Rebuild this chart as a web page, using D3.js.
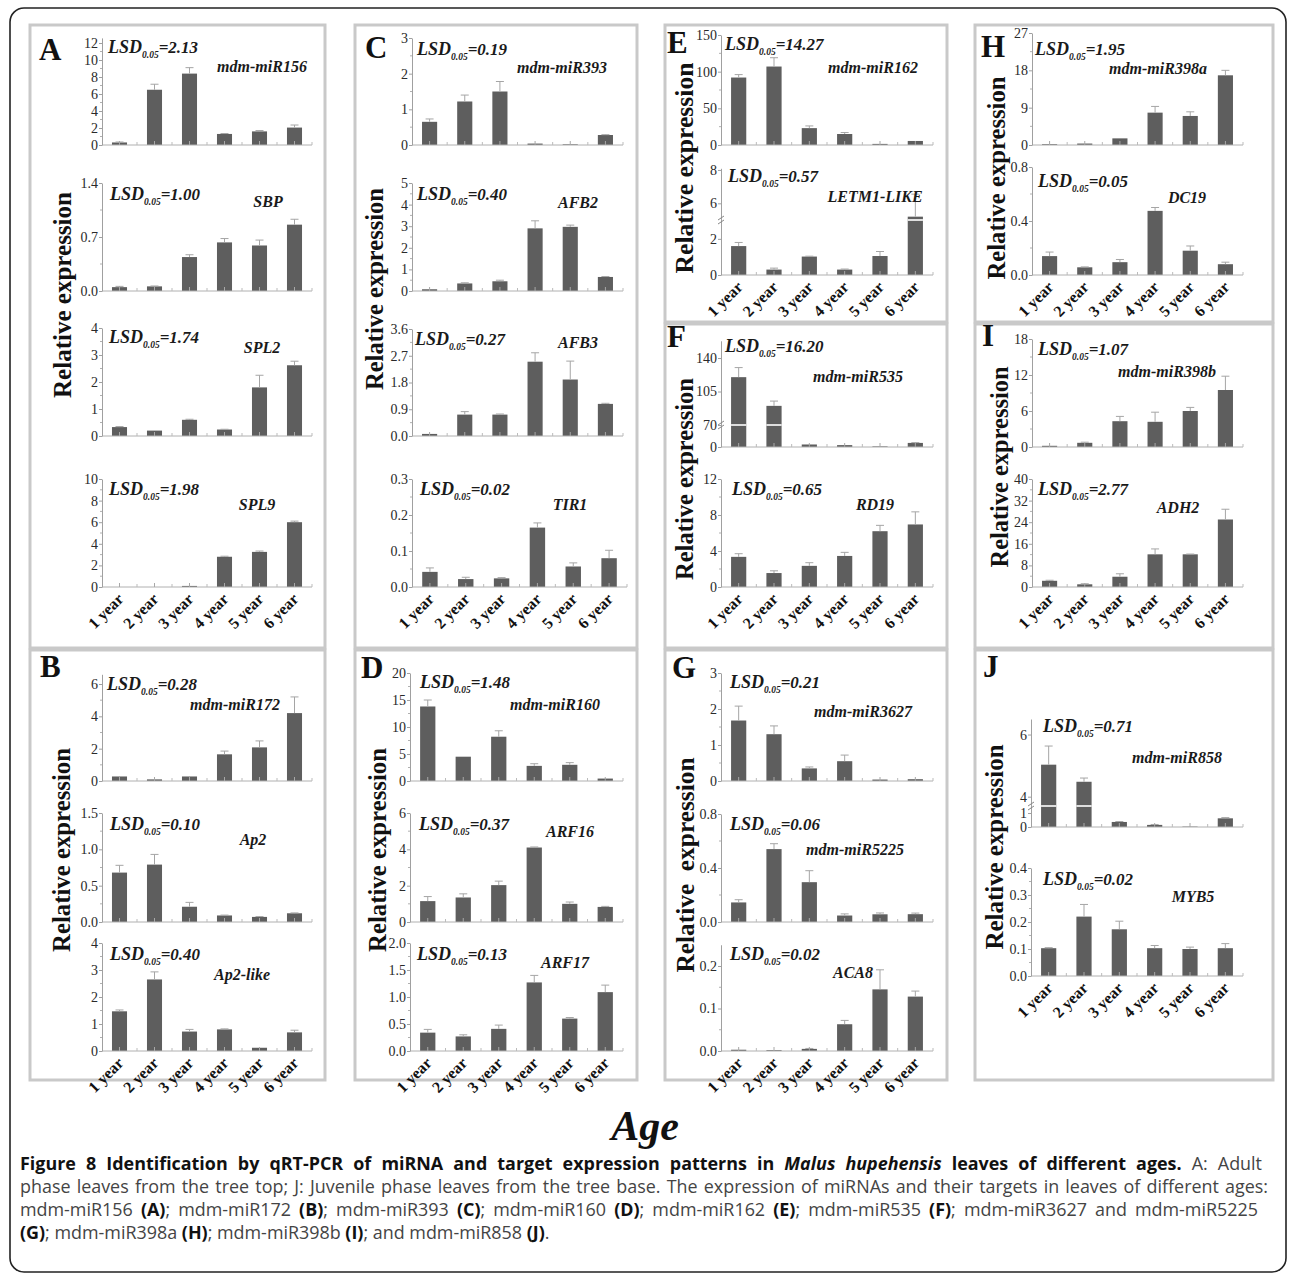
<!DOCTYPE html>
<html><head><meta charset="utf-8">
<script src="https://cdn.jsdelivr.net/npm/d3@7"></script>
<style>
body{margin:0;background:#fff;}
svg{display:block;}
</style></head>
<body>
<script>
// ---------- DATA ----------
const years = ["1 year","2 year","3 year","4 year","5 year","6 year"];

// Panel A
const miR156 = [0.3, 6.5, 8.4, 1.3, 1.6, 2.05];
const miR156Err = [0.05, 0.65, 0.7, 0.05, 0.1, 0.3];
const SBP = [0.05, 0.06, 0.44, 0.63, 0.59, 0.86];
const SBPErr = [0.01, 0.005, 0.03, 0.05, 0.07, 0.07];
const SPL2 = [0.33, 0.2, 0.6, 0.24, 1.8, 2.62];
const SPL2Err = [0.02, 0.0, 0.02, 0.01, 0.45, 0.15];
const SPL9 = [0, 0, 0.1, 2.8, 3.25, 6.0];
const SPL9Err = [0, 0, 0, 0.05, 0.08, 0.1];
// Panel B
const miR172 = [0.28, 0.1, 0.28, 1.65, 2.08, 4.2];
const miR172Err = [0, 0, 0, 0.2, 0.4, 1.0];
const Ap2 = [0.68, 0.79, 0.21, 0.09, 0.07, 0.12];
const Ap2Err = [0.1, 0.14, 0.06, 0.005, 0.005, 0.005];
const Ap2like = [1.47, 2.65, 0.72, 0.8, 0.12, 0.69];
const Ap2likeErr = [0.05, 0.28, 0.08, 0.02, 0, 0.08];
// Panel C
const miR393 = [0.65, 1.22, 1.5, 0.04, 0.02, 0.28];
const miR393Err = [0.08, 0.18, 0.28, 0, 0, 0.01];
const AFB2 = [0.08, 0.35, 0.45, 2.9, 2.97, 0.65];
const AFB2Err = [0, 0.03, 0.05, 0.35, 0.08, 0.02];
const AFB3 = [0.07, 0.72, 0.72, 2.5, 1.9, 1.08];
const AFB3Err = [0, 0.1, 0.02, 0.3, 0.62, 0.02];
const TIR1 = [0.042, 0.022, 0.024, 0.165, 0.057, 0.08];
const TIR1Err = [0.011, 0.005, 0.002, 0.013, 0.01, 0.022];
// Panel D
const miR160 = [13.8, 4.5, 8.2, 2.8, 3.0, 0.45];
const miR160Err = [1.2, 0, 1.1, 0.4, 0.4, 0];
const ARF16 = [1.15, 1.35, 2.03, 4.1, 1.0, 0.83];
const ARF16Err = [0.25, 0.2, 0.22, 0.03, 0.1, 0.03];
const ARF17 = [0.34, 0.27, 0.41, 1.27, 0.6, 1.09];
const ARF17Err = [0.06, 0.03, 0.07, 0.13, 0.02, 0.13];
// Panel E
const miR162 = [92, 107, 23, 15, 1.5, 5.5];
const miR162Err = [4, 12, 3, 2, 0, 0];
const LETM1 = [1.6, 0.3, 1.02, 0.3, 1.05, 5.2];
const LETM1Err = [0.2, 0.08, 0.02, 0.03, 0.25, 1.35];
// Panel F
const miR535 = [120, 90, 8, 6, 2, 13];
const miR535Err = [10, 5, 0, 0, 0, 1];
const RD19 = [3.35, 1.55, 2.35, 3.45, 6.2, 6.95];
const RD19Err = [0.35, 0.25, 0.35, 0.4, 0.65, 1.4];
// Panel G
const miR3627 = [1.68, 1.3, 0.35, 0.55, 0.04, 0.05];
const miR3627Err = [0.4, 0.23, 0.04, 0.17, 0, 0];
const miR5225 = [0.145, 0.54, 0.295, 0.048, 0.057, 0.058];
const miR5225Err = [0.02, 0.04, 0.085, 0.012, 0.01, 0.008];
const ACA8 = [0.003, 0.002, 0.005, 0.063, 0.145, 0.128];
const ACA8Err = [0, 0, 0.001, 0.009, 0.046, 0.013];
// Panel H
const miR398a = [0.2, 0.35, 1.6, 7.8, 7.0, 16.8];
const miR398aErr = [0, 0, 0, 1.5, 1.0, 1.2];
const DC19 = [0.14, 0.057, 0.095, 0.475, 0.18, 0.08];
const DC19Err = [0.03, 0.003, 0.02, 0.025, 0.035, 0.015];
// Panel I
const miR398b = [0.2, 0.7, 4.3, 4.2, 6.0, 9.5];
const miR398bErr = [0, 0.1, 0.8, 1.6, 0.6, 2.3];
const ADH2 = [2.3, 1.0, 3.8, 12.1, 12.1, 25];
const ADH2Err = [0.2, 0.2, 1.1, 2.0, 0.1, 3.8];
// Panel J
const miR858 = [5.03, 4.48, 0.36, 0.15, 0.03, 0.62];
const miR858Err = [0.6, 0.12, 0.03, 0.03, 0, 0.05];
const MYB5 = [0.103, 0.22, 0.173, 0.103, 0.1, 0.103];
const MYB5Err = [0.002, 0.045, 0.03, 0.01, 0.007, 0.017];

// tick labels
const ticks156 = [0,2,4,6,8,10,12], ticksSBP = [0,0.7,1.4], ticksSPL2 = [0,1,2,3,4], ticksSPL9 = [0,2,4,6,8,10];
const ticks172 = [0,2,4,6], ticksAp2 = [0,0.5,1.0,1.5], ticksAp2like = [0,1,2,3,4];
const ticks393 = [0,1,2,3], ticksAFB2 = [0,1,2,3,4,5], ticksAFB3 = [0,0.9,1.8,2.7,3.6], ticksTIR1 = [0,0.1,0.2,0.3];
const ticks160 = [0,5,10,15,20], ticksARF16 = [0,2,4,6], ticksARF17 = [0,0.5,1.0,1.5,2.0];
const ticks162 = [0,50,100,150], ticksLETM1 = [0,2,6,8];
const ticks535 = [0,70,105,140], ticksRD19 = [0,4,8,12];
const ticks3627 = [0,1,2,3], ticks5225 = [0,0.4,0.8], ticksACA8 = [0,0.1,0.2];
const ticks398a = [0,9,18,27], ticksDC19 = [0,0.4,0.8];
const ticks398b = [0,6,12,18], ticksADH2 = [0,8,16,24,32,40];
const ticks858 = [0,1,4,6], ticksMYB5 = [0,0.1,0.2,0.3,0.4];

// ---------- LAYOUT ----------
const W = 1290, H = 1280;
const SERIF = "'Liberation Serif','Times New Roman',serif";
const svg = d3.select("body").append("svg").attr("width", W).attr("height", H);

// outer frame
svg.append("rect").attr("x", 10).attr("y", 8).attr("width", 1276).attr("height", 1264)
  .attr("rx", 14).attr("fill", "none").attr("stroke", "#222").attr("stroke-width", 1.6);

const boxes = [
  [30,25,325,648],[30,650,325,1080],
  [355,25,637,648],[355,650,637,1080],
  [665,25,947,322],[665,324,947,648],[665,650,947,1080],
  [975,25,1273,322],[975,324,1273,648],[975,650,1273,1080]
];
boxes.forEach(b => svg.append("rect").attr("x", b[0]).attr("y", b[1])
  .attr("width", b[2]-b[0]).attr("height", b[3]-b[1])
  .attr("fill", "none").attr("stroke", "#c9c9c9").attr("stroke-width", 3));

const letters = [["A",39,60],["B",40,677],["C",365,58],["D",361,678],["E",667,53],
  ["F",667,347],["G",672,678],["H",981,57],["I",982,346],["J",983,677]];
letters.forEach(l => svg.append("text").attr("x", l[1]).attr("y", l[2]).text(l[0])
  .attr("font-family", SERIF).attr("font-weight", "bold").attr("font-size", 31).attr("fill", "#111"));

// y-axis titles [text, cx, cy, length]
const yTitles = [
  ["Relative expression",63,295,206],["Relative expression",62,850,204],
  ["Relative expression",375,289,202],["Relative expression",378,850,204],
  ["Relative expression",685,168,211],["Relative expression",685,479,202],
  ["Relative  expression",686,865,215],["Relative expression",997,178,203],
  ["Relative expression",1000,467,201],["Relative expression",995,847,205]
];
yTitles.forEach(t => svg.append("text")
  .attr("transform", `translate(${t[1]+8},${t[2]}) rotate(-90)`)
  .attr("text-anchor", "middle").attr("textLength", t[3]).attr("lengthAdjust", "spacingAndGlyphs")
  .style("white-space", "pre")
  .attr("font-family", SERIF).attr("font-weight", "bold").attr("font-size", 25).attr("fill", "#111")
  .text(t[0]));

function decimals(arr){ return d3.max(arr, v => { const s = String(v); return s.includes(".") ? s.split(".")[1].length : 0; }); }

function drawPlot(c) {
  const g = svg.append("g");
  const x = d3.scaleBand().domain(years).range([c.x0, c.x1]).paddingInner(0.57).paddingOuter(0.285);
  let y;
  if (c.dom) {
    y = d3.scaleLinear().domain(c.dom).range(c.rng);
  } else {
    const top = c.y0 - (c.y0 - c.yT) * c.dMax / c.ticks[c.ticks.length-1];
    y = d3.scaleLinear().domain([0, c.dMax]).range([c.y0, top]);
  }
  const y0 = y(0);
  const dec = decimals(c.ticks);
  // bars
  g.selectAll("rect.bar").data(c.vals).join("rect")
    .attr("x", (d,i) => x(years[i])).attr("width", x.bandwidth())
    .attr("y", d => y(d)).attr("height", d => y0 - y(d))
    .attr("fill", "#5e5e5e");
  // break white lines
  if (c.brk !== undefined) {
    c.vals.forEach((v,i) => {
      if (v > c.brk) g.append("line").attr("x1", x(years[i])).attr("x2", x(years[i]) + x.bandwidth())
        .attr("y1", y(c.brk)).attr("y2", y(c.brk)).attr("stroke", "#fff").attr("stroke-width", 1.6);
    });
  }
  // error bars
  c.vals.forEach((v,i) => {
    const e = c.errs[i]; if (!(e > 0)) return;
    const cx = x(years[i]) + x.bandwidth()/2;
    g.append("line").attr("x1", cx).attr("x2", cx).attr("y1", y(v)).attr("y2", y(v+e))
      .attr("stroke", "#a5a5a5").attr("stroke-width", 1);
    g.append("line").attr("x1", cx-4).attr("x2", cx+4).attr("y1", y(v+e)).attr("y2", y(v+e))
      .attr("stroke", "#a5a5a5").attr("stroke-width", 1);
  });
  // x axis line and ticks
  g.append("line").attr("x1", c.x0).attr("x2", c.x1).attr("y1", y0).attr("y2", y0)
    .attr("stroke", "#b0b0b0").attr("stroke-width", 1);
  years.forEach((yr,i) => {
    const cx = x(yr) + x.bandwidth()/2;
    g.append("line").attr("x1", cx).attr("x2", cx).attr("y1", y0).attr("y2", y0-4)
      .attr("stroke", "#a8a8a8").attr("stroke-width", 1);
    const bx = c.x0 + (i+1) * x.step();
    g.append("line").attr("x1", bx).attr("x2", bx).attr("y1", y0).attr("y2", y0-3)
      .attr("stroke", "#bbb").attr("stroke-width", 1);
  });
  // y axis
  const ax = d3.axisLeft(y).tickValues(c.ticks).tickSize(3).tickSizeOuter(0)
    .tickFormat(d3.format(`.${dec}f`));
  const ag = g.append("g").attr("transform", `translate(${c.x0},0)`).call(ax)
    .attr("font-family", null).attr("font-size", null);
  ag.select(".domain").attr("stroke", "#a0a0a0");
  ag.selectAll(".tick line").attr("stroke", "#a0a0a0");
  ag.selectAll(".tick text").style("font-family", SERIF).style("font-size", "14px")
    .attr("fill", "#2a2a2a").attr("x", -4);
  // minor ticks
  if (!c.dom) {
    for (let k = 0; k < c.ticks.length - 1; k++) {
      const m = (c.ticks[k] + c.ticks[k+1]) / 2;
      g.append("line").attr("x1", c.x0 - 2).attr("x2", c.x0).attr("y1", y(m)).attr("y2", y(m))
        .attr("stroke", "#b0b0b0");
    }
  } else {
    const by = y(c.brk);
    [-2, 2].forEach(o => g.append("line").attr("x1", c.x0 - 3).attr("x2", c.x0 + 3)
      .attr("y1", by + o + 2).attr("y2", by + o - 2).attr("stroke", "#888").attr("stroke-width", 1));
  }
  // LSD label
  const lt = g.append("text").attr("x", c.lsd[0]).attr("y", c.lsd[1])
    .attr("font-family", SERIF).attr("font-weight", "bold").attr("font-style", "italic").attr("fill", "#1a1a1a");
  lt.append("tspan").attr("font-size", 18).text("LSD");
  lt.append("tspan").attr("font-size", 9.5).attr("dy", 5).text("0.05");
  lt.append("tspan").attr("font-size", 17).attr("dy", -5).text("=" + c.lsdVal);
  // gene label
  g.append("text").attr("x", c.gene[0]).attr("y", c.gene[1]).attr("text-anchor", "middle")
    .attr("font-family", SERIF).attr("font-weight", "bold").attr("font-style", "italic")
    .attr("font-size", 16).attr("fill", "#1a1a1a").text(c.name);
  // x labels
  if (c.xl) {
    years.forEach(yr => {
      const cx = x(yr) + x.bandwidth()/2;
      g.append("text").attr("transform", `translate(${cx+5},${y0+13}) rotate(-45)`)
        .attr("text-anchor", "end").attr("font-family", SERIF).attr("font-weight", "bold")
        .attr("font-size", 16).attr("fill", "#111").text(yr);
    });
  }
}

const plots = [
  // A
  {x0:102,x1:312,y0:145,yT:43,dMax:12.6,ticks:ticks156,vals:miR156,errs:miR156Err,lsd:[108,53],lsdVal:"2.13",name:"mdm-miR156",gene:[262,72]},
  {x0:102,x1:312,y0:291,yT:183,dMax:1.4,ticks:ticksSBP,vals:SBP,errs:SBPErr,lsd:[110,200],lsdVal:"1.00",name:"SBP",gene:[268,207]},
  {x0:102,x1:312,y0:436,yT:328,dMax:4,ticks:ticksSPL2,vals:SPL2,errs:SPL2Err,lsd:[109,343],lsdVal:"1.74",name:"SPL2",gene:[262,353]},
  {x0:102,x1:312,y0:587,yT:479,dMax:10,ticks:ticksSPL9,vals:SPL9,errs:SPL9Err,lsd:[109,495],lsdVal:"1.98",name:"SPL9",gene:[257,510],xl:true},
  // B
  {x0:102,x1:312,y0:781,yT:684,dMax:6.6,ticks:ticks172,vals:miR172,errs:miR172Err,lsd:[107,690],lsdVal:"0.28",name:"mdm-miR172",gene:[235,710]},
  {x0:102,x1:312,y0:922,yT:813,dMax:1.5,ticks:ticksAp2,vals:Ap2,errs:Ap2Err,lsd:[110,830],lsdVal:"0.10",name:"Ap2",gene:[253,845]},
  {x0:102,x1:312,y0:1051,yT:943,dMax:4,ticks:ticksAp2like,vals:Ap2like,errs:Ap2likeErr,lsd:[110,960],lsdVal:"0.40",name:"Ap2-like",gene:[242,980],xl:true},
  // C
  {x0:412,x1:623,y0:145,yT:38,dMax:3,ticks:ticks393,vals:miR393,errs:miR393Err,lsd:[417,55],lsdVal:"0.19",name:"mdm-miR393",gene:[562,73]},
  {x0:412,x1:623,y0:291,yT:183,dMax:5,ticks:ticksAFB2,vals:AFB2,errs:AFB2Err,lsd:[417,200],lsdVal:"0.40",name:"AFB2",gene:[578,208]},
  {x0:412,x1:623,y0:436,yT:329,dMax:3.6,ticks:ticksAFB3,vals:AFB3,errs:AFB3Err,lsd:[415,345],lsdVal:"0.27",name:"AFB3",gene:[578,348]},
  {x0:412,x1:627,y0:587,yT:479,dMax:0.3,ticks:ticksTIR1,vals:TIR1,errs:TIR1Err,lsd:[420,495],lsdVal:"0.02",name:"TIR1",gene:[570,510],xl:true},
  // D
  {x0:410,x1:623,y0:781,yT:673,dMax:20,ticks:ticks160,vals:miR160,errs:miR160Err,lsd:[420,688],lsdVal:"1.48",name:"mdm-miR160",gene:[555,710]},
  {x0:410,x1:623,y0:922,yT:813,dMax:6,ticks:ticksARF16,vals:ARF16,errs:ARF16Err,lsd:[419,830],lsdVal:"0.37",name:"ARF16",gene:[570,837]},
  {x0:410,x1:623,y0:1051,yT:943,dMax:2,ticks:ticksARF17,vals:ARF17,errs:ARF17Err,lsd:[417,960],lsdVal:"0.13",name:"ARF17",gene:[565,968],xl:true},
  // E
  {x0:721,x1:933,y0:145,yT:35,dMax:150,ticks:ticks162,vals:miR162,errs:miR162Err,lsd:[725,50],lsdVal:"14.27",name:"mdm-miR162",gene:[873,73]},
  {x0:721,x1:933,dom:[0,2.6,5,8.1],rng:[275,228,220,168.3],brk:5,ticks:ticksLETM1,vals:LETM1,errs:LETM1Err,lsd:[728,182],lsdVal:"0.57",name:"LETM1-LIKE",gene:[875,202],xl:true},
  // F
  {x0:721,x1:933,dom:[0,70,158],rng:[447,425,340.8],brk:70,ticks:ticks535,vals:miR535,errs:miR535Err,lsd:[725,352],lsdVal:"16.20",name:"mdm-miR535",gene:[858,382]},
  {x0:721,x1:933,y0:587,yT:479,dMax:12,ticks:ticksRD19,vals:RD19,errs:RD19Err,lsd:[732,495],lsdVal:"0.65",name:"RD19",gene:[875,510],xl:true},
  // G
  {x0:721,x1:933,y0:781,yT:673,dMax:3,ticks:ticks3627,vals:miR3627,errs:miR3627Err,lsd:[730,688],lsdVal:"0.21",name:"mdm-miR3627",gene:[863,717]},
  {x0:721,x1:933,y0:922,yT:814,dMax:0.8,ticks:ticks5225,vals:miR5225,errs:miR5225Err,lsd:[730,830],lsdVal:"0.06",name:"mdm-miR5225",gene:[855,855]},
  {x0:721,x1:933,y0:1051,yT:966,dMax:0.25,ticks:ticksACA8,vals:ACA8,errs:ACA8Err,lsd:[730,960],lsdVal:"0.02",name:"ACA8",gene:[853,978],xl:true},
  // H
  {x0:1032,x1:1243,y0:145,yT:33,dMax:27,ticks:ticks398a,vals:miR398a,errs:miR398aErr,lsd:[1035,55],lsdVal:"1.95",name:"mdm-miR398a",gene:[1158,74]},
  {x0:1032,x1:1243,y0:275,yT:167,dMax:0.8,ticks:ticksDC19,vals:DC19,errs:DC19Err,lsd:[1038,187],lsdVal:"0.05",name:"DC19",gene:[1187,203],xl:true},
  // I
  {x0:1032,x1:1243,y0:447,yT:339,dMax:18,ticks:ticks398b,vals:miR398b,errs:miR398bErr,lsd:[1038,355],lsdVal:"1.07",name:"mdm-miR398b",gene:[1167,377]},
  {x0:1032,x1:1243,y0:587,yT:479,dMax:40,ticks:ticksADH2,vals:ADH2,errs:ADH2Err,lsd:[1038,495],lsdVal:"2.77",name:"ADH2",gene:[1178,513],xl:true},
  // J
  {x0:1031,x1:1243,dom:[0,1.5,3.7,6.5],rng:[827,806,806,719],brk:3.7,ticks:ticks858,vals:miR858,errs:miR858Err,lsd:[1043,732],lsdVal:"0.71",name:"mdm-miR858",gene:[1177,763]},
  {x0:1031,x1:1243,y0:976,yT:868,dMax:0.4,ticks:ticksMYB5,vals:MYB5,errs:MYB5Err,lsd:[1043,885],lsdVal:"0.02",name:"MYB5",gene:[1193,902],xl:true}
];
plots.forEach(drawPlot);

// Age
svg.append("text").attr("x", 645).attr("y", 1140).attr("text-anchor", "middle")
  .attr("font-family", SERIF).attr("font-weight", "bold").attr("font-style", "italic")
  .attr("font-size", 42).attr("fill", "#111").text("Age");

// Caption
const SANS = "'Open Sans','Noto Sans',sans-serif";
const capLines = [
  {len:1242, parts:[["Figure 8 Identification by qRT-PCR of miRNA and target expression patterns in ","b"],["Malus hupehensis","bi"],[" leaves of different ages.","b"],[" A: Adult","r"]]},
  {len:1248, parts:[["phase leaves from the tree top; J: Juvenile phase leaves from the tree base. The expression of miRNAs and their targets in leaves of different ages:","r"]]},
  {len:1238, parts:[["mdm-miR156 ","r"],["(A)","b"],["; mdm-miR172 ","r"],["(B)","b"],["; mdm-miR393 ","r"],["(C)","b"],["; mdm-miR160 ","r"],["(D)","b"],["; mdm-miR162 ","r"],["(E)","b"],["; mdm-miR535 ","r"],["(F)","b"],["; mdm-miR3627 and mdm-miR5225","r"]]},
  {len:null, parts:[["(G)","b"],["; mdm-miR398a ","r"],["(H)","b"],["; mdm-miR398b ","r"],["(I)","b"],["; and mdm-miR858 ","r"],["(J)","b"],[".","r"]]}
];
const capTexts = capLines.map((ln, i) => {
  const t = svg.append("text").attr("x", 20).attr("y", 1170 + i*23)
    .attr("font-family", SANS).attr("font-size", 15).style("white-space", "pre");
  ln.parts.forEach(p => {
    const s = t.append("tspan").text(p[0]);
    if (p[1] === "b" || p[1] === "bi") s.attr("font-weight", "bold").attr("fill", "#111");
    else s.attr("fill", "#444");
    if (p[1] === "bi") s.attr("font-style", "italic");
  });
  return t;
});
// one font size for all caption lines, justified lines padded with word spacing
let fs = 100;
capLines.forEach((ln, i) => {
  if (!ln.len) return;
  const nat = capTexts[i].node().getComputedTextLength();
  fs = Math.min(fs, 15 * ln.len / nat);
});
fs = fs * 0.97;
capTexts.forEach((t, i) => {
  t.attr("font-size", fs);
  const ln = capLines[i];
  if (ln.len) {
    const nat = t.node().getComputedTextLength();
    const full = ln.parts.map(p => p[0]).join("");
    const spaces = (full.match(/ /g) || []).length;
    t.style("word-spacing", Math.max(0, (ln.len - nat) / spaces) + "px");
  }
});
</script>
</body></html>
